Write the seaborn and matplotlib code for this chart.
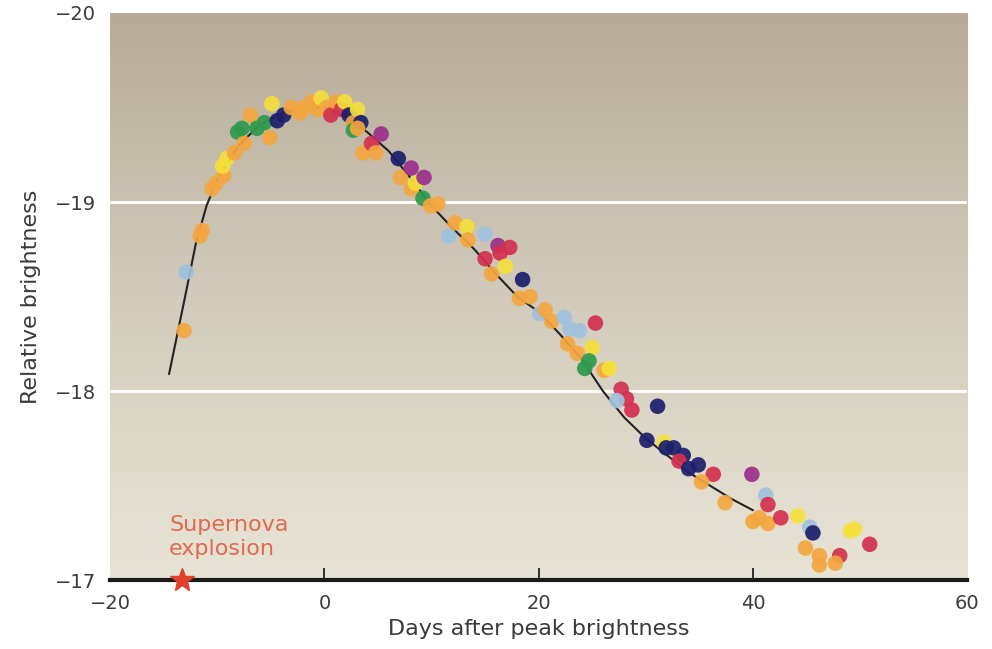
import numpy as np
import pandas as pd
import matplotlib
matplotlib.use("Agg")
import matplotlib.pyplot as plt
import seaborn as sns
from matplotlib.colors import LinearSegmentedColormap

# ---------------- data ----------------
obs_px = [
    (182, 332, "orange"), (184, 273, "lightblue"), (200, 233, "orange"), (198, 237, "orange"),
    (210, 191, "orange"), (214, 186, "orange"), (222, 178, "orange"), (220, 168, "yellow"),
    (225, 160, "yellow"), (232, 155, "orange"), (236, 135, "green"), (240, 130, "green"),
    (242, 145, "orange"), (248, 118, "orange"), (255, 130, "green"), (262, 125, "green"),
    (268, 140, "orange"), (270, 107, "yellow"), (275, 123, "navy"), (282, 117, "navy"),
    (290, 110, "orange"), (298, 115, "orange"), (302, 110, "orange"), (310, 105, "orange"),
    (315, 112, "orange"), (320, 100, "yellow"), (325, 110, "orange"), (330, 117, "crimson"),
    (335, 105, "orange"), (340, 112, "crimson"), (343, 105, "yellow"), (348, 118, "navy"),
    (352, 125, "orange"), (352, 132, "green"), (357, 112, "yellow"), (360, 125, "navy"),
    (357, 130, "orange"), (362, 155, "orange"), (370, 145, "crimson"), (375, 155, "orange"),
    (380, 137, "purple"), (398, 160, "navy"), (400, 180, "orange"), (410, 170, "purple"),
    (410, 190, "orange"), (415, 185, "yellow"), (423, 180, "purple"), (422, 200, "green"),
    (430, 208, "orange"), (437, 205, "orange"), (448, 238, "lightblue"), (455, 225, "orange"),
    (467, 228, "yellow"), (468, 242, "orange"), (485, 236, "lightblue"), (485, 260, "crimson"),
    (498, 248, "purple"), (500, 255, "crimson"), (510, 250, "crimson"), (492, 275, "orange"),
    (505, 268, "yellow"), (523, 282, "navy"), (520, 300, "orange"), (530, 298, "orange"),
    (540, 315, "lightblue"), (545, 312, "orange"), (552, 322, "orange"), (565, 318, "lightblue"),
    (570, 330, "lightblue"), (580, 332, "lightblue"), (596, 325, "crimson"), (568, 345, "orange"),
    (593, 348, "yellow"), (578, 355, "orange"), (590, 362, "green"), (585, 370, "green"),
    (605, 372, "orange"), (610, 370, "yellow"), (622, 390, "crimson"), (628, 400, "crimson"),
    (618, 402, "lightblue"), (633, 410, "crimson"), (659, 407, "navy"), (648, 440, "navy"),
    (665, 442, "yellow"), (668, 448, "navy"), (675, 448, "navy"), (685, 455, "navy"),
    (680, 462, "crimson"), (690, 470, "navy"), (700, 465, "navy"), (715, 474, "crimson"),
    (703, 482, "orange"), (727, 502, "orange"), (754, 475, "purple"), (768, 495, "lightblue"),
    (770, 505, "crimson"), (755, 522, "orange"), (762, 518, "orange"), (770, 524, "orange"),
    (783, 518, "crimson"), (800, 517, "yellow"), (812, 527, "lightblue"), (815, 533, "navy"),
    (808, 548, "orange"), (822, 555, "orange"), (822, 565, "orange"), (843, 555, "crimson"),
    (838, 563, "orange"), (853, 532, "yellow"), (858, 530, "yellow"), (873, 545, "crimson"),
]
days = [round((p[0] - 323) / 10.8, 1) for p in obs_px]
mags = [round(-17 - (580 - p[1]) / 188, 2) for p in obs_px]
groups = [p[2] for p in obs_px]

curve_days = [-14.5, -13, -12, -11, -10, -8, -6, -4, -2, 0, 2, 4, 6, 8, 10, 12, 14,
              16, 18, 20, 22, 24, 26, 28, 30, 32, 34, 36, 38, 40]
curve_mags = [-18.09, -18.5, -18.78, -18.98, -19.12, -19.3, -19.41, -19.47, -19.5, -19.5,
              -19.45, -19.37, -19.27, -19.13, -18.98, -18.86, -18.75, -18.62, -18.5, -18.42,
              -18.3, -18.17, -18.0, -17.86, -17.75, -17.66, -17.57, -17.5, -17.43, -17.37]

x_ticks = [-20, 0, 20, 40, 60]
y_ticks = [-20, -19, -18, -17]

palette = {
    "orange": "#f4a63f", "yellow": "#f5e03a", "green": "#2f9a4c", "navy": "#1c1f6b",
    "purple": "#9a2f8c", "crimson": "#d3304e", "lightblue": "#9fc1de",
}

df = pd.DataFrame({"day": days, "mag": mags, "group": groups})
curve = pd.DataFrame({"day": curve_days, "mag": curve_mags})

# ---------------- figure ----------------
sns.set_theme(style="white")
plt.rcParams["font.family"] = ["DejaVu Sans"]

fig = plt.figure(figsize=(9.92, 6.49), dpi=100)
ax = fig.add_axes([0.111, 0.106, 0.864, 0.874])

# background gradient
cmap = LinearSegmentedColormap.from_list("bg", ["#b7ab98", "#d2cbbb", "#e8e4d5"])
grad = np.linspace(0, 1, 256).reshape(-1, 1)
ax.imshow(grad, cmap=cmap, aspect="auto", extent=[-20, 60, -17, -20],
          origin="upper", zorder=0)

for yv in [-19, -18]:
    ax.axhline(yv, color="white", lw=2, zorder=1)

sns.lineplot(data=curve, x="day", y="mag", color="#222222", lw=1.5, ax=ax, zorder=2)
sns.scatterplot(data=df, x="day", y="mag", hue="group", palette=palette, s=125,
                edgecolor="none", alpha=0.92, legend=False, ax=ax, zorder=3)

ax.set_xlim(-20, 60)
ax.set_ylim(-17, -20)
ax.set_xticks(x_ticks)
ax.set_yticks(y_ticks)
ax.set_xticklabels([f"\u2212{abs(v)}" if v < 0 else str(v) for v in x_ticks])
ax.set_yticklabels([f"\u2212{abs(v)}" for v in y_ticks])
ax.tick_params(axis="x", direction="in", length=9, width=1.3, color="#222222",
               bottom=True, labelsize=14, labelcolor="#3a3a3a", pad=10)
ax.tick_params(axis="y", length=0, labelsize=14, labelcolor="#3a3a3a", pad=10)
ax.xaxis.set_zorder(5)
major = ax.xaxis.get_major_ticks()
major[0].tick1line.set_visible(False)
major[-1].tick1line.set_visible(False)

for s in ["top", "right", "left"]:
    ax.spines[s].set_visible(False)
ax.spines["bottom"].set_color("#1a1a1a")
ax.spines["bottom"].set_linewidth(3)
ax.spines["bottom"].set_zorder(4)

ax.set_xlabel("Days after peak brightness", fontsize=16, color="#3a3a3a", labelpad=4)
ax.set_ylabel("Relative brightness", fontsize=16, color="#3a3a3a", labelpad=10)

ax.plot([-13.3], [-17], marker="*", markersize=18, color="#e0402c", clip_on=False, zorder=6,
        linestyle="none")
ax.text(-14.5, -17.11, "Supernova\nexplosion", color="#e06a4e", fontsize=16,
        ha="left", va="bottom", linespacing=1.3, zorder=5)

fig.savefig("out.png", dpi=100)
